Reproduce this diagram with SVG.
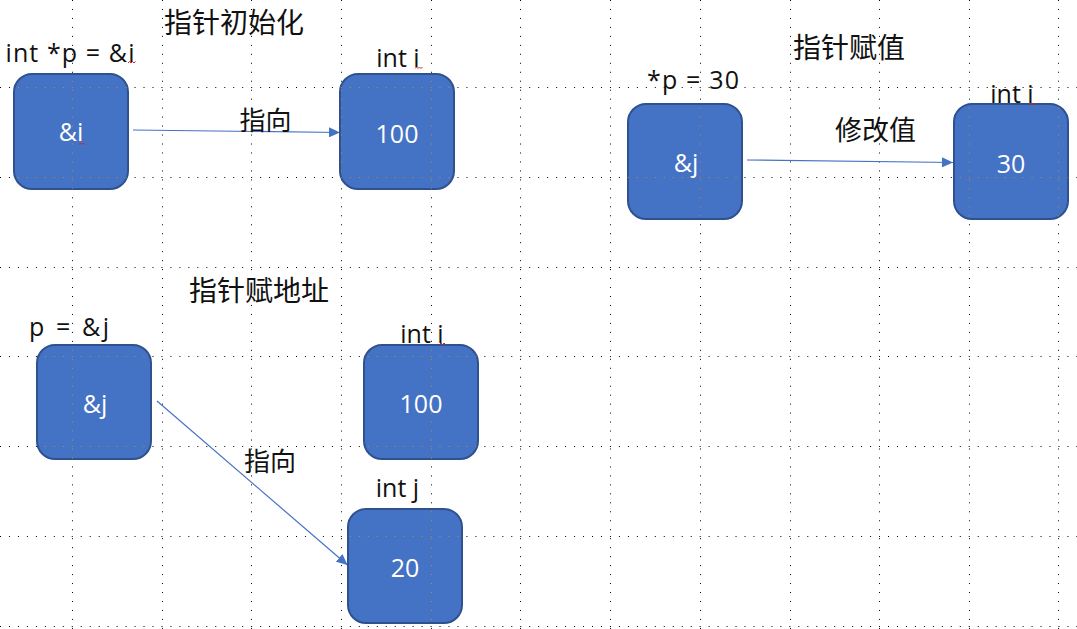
<svg xmlns="http://www.w3.org/2000/svg" xmlns:xlink="http://www.w3.org/1999/xlink" width="1077" height="629" viewBox="0 0 1077 629">
<style>
.box{fill:#4472C4;stroke:#2F528F;stroke-width:2}
.in{fill:#FFFFFF;font-family:"Open Sans","Noto Sans CJK SC",sans-serif;font-size:25px;text-anchor:middle}
.lab{fill:#111111;font-family:"Open Sans","Noto Sans CJK SC",sans-serif;font-size:25px;text-anchor:middle}
.cjk{fill:#111111;font-family:"Noto Sans CJK SC",sans-serif;font-size:28px;text-anchor:middle}
.cjk2{fill:#111111;font-family:"Noto Sans CJK SC",sans-serif;font-size:26px;text-anchor:middle}
.edge{stroke:#4472C4;stroke-width:1.2;fill:none;marker-end:url(#ah)}
.sq{stroke:#E02020;stroke-width:1;fill:none}
#grid line{stroke-width:1;stroke-dasharray:1 7.97}
</style>
<defs>
<marker id="ah" markerUnits="userSpaceOnUse" markerWidth="12" markerHeight="10" refX="11" refY="5" orient="auto">
<path d="M0,0 L11,5 L0,10 z" fill="#4472C4"/>
</marker>
<g id="grid">
<line x1="72.5" y1="0" x2="72.5" y2="629"/>
<line x1="162.5" y1="0" x2="162.5" y2="629"/>
<line x1="251.5" y1="0" x2="251.5" y2="629"/>
<line x1="341.5" y1="0" x2="341.5" y2="629"/>
<line x1="431.5" y1="0" x2="431.5" y2="629"/>
<line x1="520.5" y1="0" x2="520.5" y2="629"/>
<line x1="610.5" y1="0" x2="610.5" y2="629"/>
<line x1="700.5" y1="0" x2="700.5" y2="629"/>
<line x1="790.5" y1="0" x2="790.5" y2="629"/>
<line x1="879.5" y1="0" x2="879.5" y2="629"/>
<line x1="969.5" y1="0" x2="969.5" y2="629"/>
<line x1="1058.5" y1="0" x2="1058.5" y2="629"/>
<line x1="0" y1="87.5" x2="1077" y2="87.5"/>
<line x1="0" y1="177.5" x2="1077" y2="177.5"/>
<line x1="0" y1="267.5" x2="1077" y2="267.5"/>
<line x1="0" y1="356.5" x2="1077" y2="356.5"/>
<line x1="0" y1="446.5" x2="1077" y2="446.5"/>
<line x1="0" y1="536.5" x2="1077" y2="536.5"/>
<line x1="0" y1="626.5" x2="1077" y2="626.5"/>
</g>
<clipPath id="boxclip">
<rect x="14" y="74" width="114" height="115" rx="18"/>
<rect x="340" y="74" width="114" height="115" rx="18"/>
<rect x="628" y="104" width="114" height="115" rx="18"/>
<rect x="954" y="104" width="114" height="115" rx="18"/>
<rect x="37" y="345" width="114" height="114" rx="18"/>
<rect x="364" y="345" width="114" height="114" rx="18"/>
<rect x="348" y="509" width="114" height="114" rx="18"/>
</clipPath>
</defs>
<rect x="0" y="0" width="1077" height="629" fill="#FFFFFF"/>
<use xlink:href="#grid" href="#grid" stroke="#000000"/>

<g id="connectors">
<line class="edge" x1="133" y1="130" x2="340" y2="132.5"/>
<line class="edge" x1="747" y1="160" x2="953" y2="162.5"/>
<line class="edge" x1="157" y1="401" x2="347.5" y2="565"/>
</g>

<g id="node-ptr1">
<rect class="box" x="14" y="74" width="114" height="115" rx="18"/>
<text class="in" x="71" y="141">&amp;i</text>
</g>
<g id="node-i1">
<rect class="box" x="340" y="74" width="114" height="115" rx="18"/>
<text class="in" x="397" y="142.5">100</text>
</g>
<g id="node-ptr2">
<rect class="box" x="628" y="104" width="114" height="115" rx="18"/>
<text class="in" x="686" y="172">&amp;j</text>
</g>
<g id="node-i2">
<rect class="box" x="954" y="104" width="114" height="115" rx="18"/>
<text class="in" x="1011" y="172.5">30</text>
</g>
<g id="node-ptr3">
<rect class="box" x="37" y="345" width="114" height="114" rx="18"/>
<text class="in" x="95" y="413">&amp;j</text>
</g>
<g id="node-i3">
<rect class="box" x="364" y="345" width="114" height="114" rx="18"/>
<text class="in" x="421" y="413">100</text>
</g>
<g id="node-j3">
<rect class="box" x="348" y="509" width="114" height="114" rx="18"/>
<text class="in" x="405" y="576.5">20</text>
</g>

<use xlink:href="#grid" href="#grid" stroke="#BB8D3B" clip-path="url(#boxclip)"/>

<g id="labels">
<text class="cjk" x="234" y="33">指针初始化</text>
<text class="lab" x="70" y="61.5" textLength="129" lengthAdjust="spacing">int *p = &amp;i</text>
<text class="lab" x="398" y="66.5">int i</text>
<text class="cjk2" x="265.5" y="130">指向</text>
<text class="cjk" x="849" y="58">指针赋值</text>
<text class="lab" x="693" y="89" textLength="92" lengthAdjust="spacing">*p = 30</text>
<text class="cjk" x="875.5" y="139.5" style="font-size:27px">修改值</text>
<text class="lab" x="1012" y="102.5">int i</text>
<text class="cjk" x="259" y="300.5">指针赋地址</text>
<text class="lab" x="69" y="336" textLength="80" lengthAdjust="spacing">p = &amp;j</text>
<text class="lab" x="422" y="342.5">int i</text>
<text class="cjk2" x="270" y="470.5">指向</text>
<text class="lab" x="397.5" y="496.5">int j</text>
</g>
<g id="spell-marks">
<path class="sq" d="M128,63 l1.5,-1.5 l1.5,1.5 l1.5,-1.5 l1.5,1.5 l1.5,-1.5"/>
<path class="sq" d="M79,144.5 l1.5,-1.5 l1.5,1.5 l1.5,-1.5 l1.5,1.5"/>
<path class="sq" d="M415,68.5 l1.5,-1.5 l1.5,1.5 l1.5,-1.5 l1.5,1.5 l1.5,-1.5"/>
<path class="sq" d="M1029,104.5 l1.5,-1.5 l1.5,1.5 l1.5,-1.5 l1.5,1.5 l1.5,-1.5"/>
<path class="sq" d="M439.5,344.5 l1.5,-1.5 l1.5,1.5 l1.5,-1.5 l1.5,1.5"/>
</g>
</svg>
